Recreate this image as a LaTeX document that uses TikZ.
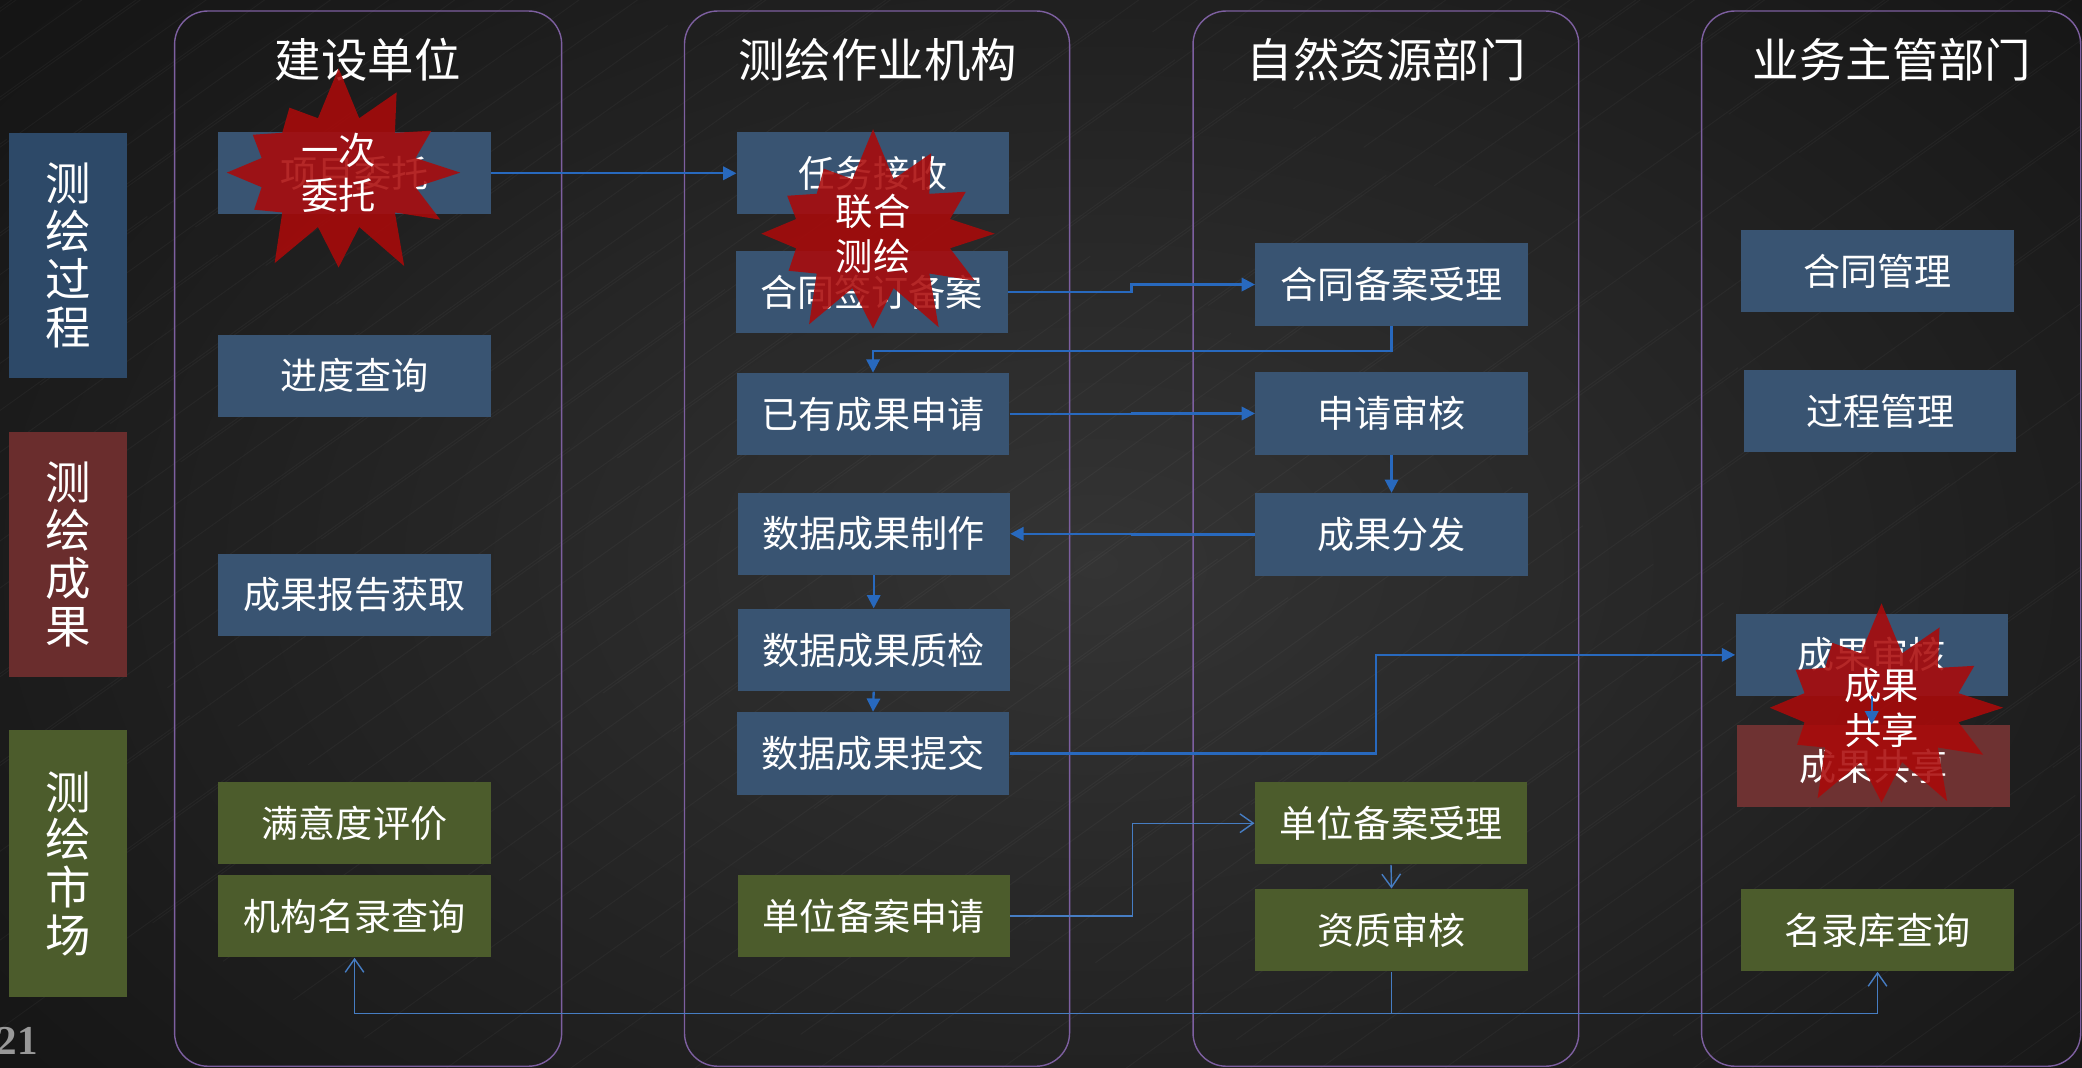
\documentclass[tikz,border=0pt]{standalone}
\usepackage{fontspec}
\setmainfont{Noto Sans CJK SC}
\newfontfamily\numfont{Liberation Serif}
\usetikzlibrary{calc,shapes.symbols,arrows.meta}
\definecolor{bgin}{RGB}{52,52,52}
\definecolor{bgout}{RGB}{20,20,20}
\definecolor{lanecol}{RGB}{125,95,160}
\definecolor{boxblue}{RGB}{57,84,114}
\definecolor{sideblue}{RGB}{45,73,104}
\definecolor{boxgreen}{RGB}{76,92,44}
\definecolor{boxred}{RGB}{110,50,50}
\definecolor{sidered}{RGB}{106,45,45}
\definecolor{burstred}{RGB}{170,10,10}
\definecolor{flowblue}{RGB}{40,105,190}
\definecolor{thinblue}{RGB}{70,125,195}
\begin{document}
\begin{tikzpicture}[x=0.02cm,y=-0.02cm,
  box/.style={minimum width=4.1cm,minimum height=1.24cm,inner sep=0pt,text=white,font=\fontsize{15.9}{19}\selectfont},
  bluebox/.style={box,fill=boxblue},
  greenbox/.style={box,fill=boxgreen},
  redbox/.style={box,fill=boxred},
  side/.style={minimum width=1.78cm,inner sep=0pt,align=center,text=white,font=\fontsize{19.5}{20.5}\selectfont},
  lane/.style={draw=lanecol,line width=0.6pt,rounded corners=0.5cm},
  head/.style={text=white,font=\fontsize{19.9}{24}\selectfont},
  burst/.style={starburst,starburst points=12,starburst point height=0.8cm,random starburst=7,
    minimum width=4cm,minimum height=2.35cm,inner sep=0pt,fill=burstred,fill opacity=0.88,
    text opacity=1,text=white,align=center,font=\fontsize{16}{19.4}\selectfont},
  flow/.style={draw=flowblue,line width=1pt,-{Triangle[length=5.7pt,width=5.7pt]}},
  thinflow/.style={draw=thinblue,line width=0.6pt,-{Straight Barb[length=5.7pt,width=8pt]}}]
\clip (0,0) rectangle (1568,804);
\shade[inner color=bgin,outer color=bgout] (-250,-250) rectangle (1900,1100);
\foreach \k in {0,...,160}
  \draw[white,opacity=0.035,line width=0.4pt] ({mod(\k*53,2300)-500},{mod(\k*29,900)}) -- ++(420,-300);
\draw[lane] (131.5,8.3) rectangle (423,803);
\draw[lane] (515.5,8.3) rectangle (805.5,803);
\draw[lane] (898.5,8.3) rectangle (1189,803);
\draw[lane] (1281.5,8.3) rectangle (1567,803);
\node[head] (hjs) at (277,45) {建设单位};
\node[head] (hch) at (661,45) {测绘作业机构};
\node[head] (hzr) at (1044,45) {自然资源部门};
\node[head] (hyw) at (1425,45) {业务主管部门};
\node[side,fill=sideblue,minimum height=3.7cm] (sgc) at (51.5,192.5) {测\\绘\\过\\程};
\node[side,fill=sidered,minimum height=3.7cm] (scg) at (51.5,417.5) {测\\绘\\成\\果};
\node[side,fill=boxgreen,minimum height=4.02cm] (ssc) at (51.5,650.5) {测\\绘\\市\\场};
\node[font=\numfont\bfseries\fontsize{17.6}{20}\selectfont,text=gray!80,inner sep=0pt] (pg) at (13,784) {21};
\node[bluebox] (xmwt) at (267,130.5) {项目委托};
\node[bluebox] (jdcx) at (267,283) {进度查询};
\node[bluebox] (cgbg) at (267,448) {成果报告获取};
\node[greenbox] (myd) at (267,620) {满意度评价};
\node[greenbox] (jgml) at (267,690) {机构名录查询};
\node[bluebox] (rwjs) at (657.5,130.5) {任务接收};
\node[bluebox] (htqd) at (656.5,220) {合同签订备案};
\node[bluebox] (yycg) at (657.5,312) {已有成果申请};
\node[bluebox] (sjzz) at (658,402) {数据成果制作};
\node[bluebox] (sjzj) at (658,489.5) {数据成果质检};
\node[bluebox] (sjtj) at (657.5,567.4) {数据成果提交};
\node[greenbox] (dwsq) at (658,690) {单位备案申请};
\node[bluebox] (htsl) at (1048,214.3) {合同备案受理};
\node[bluebox] (sqsh) at (1048,311.4) {申请审核};
\node[bluebox] (cgff) at (1048,402.5) {成果分发};
\node[greenbox] (dwsl) at (1047.6,620) {单位备案受理};
\node[greenbox] (zzsh) at (1048,700.5) {资质审核};
\node[bluebox] (htgl) at (1414,204.3) {合同管理};
\node[bluebox] (gcgl) at (1416,309.5) {过程管理};
\node[bluebox] (cgsh) at (1409.6,493.2) {成果审核};
\node[redbox] (cggx) at (1411,577) {成果共享};
\node[greenbox] (mlk) at (1414,700.5) {名录库查询};
\node[burst] (bwt) at (255,130) {一次\\委托};
\node[burst] (bch) at (657.5,176) {联合\\测绘};
\node[burst] (bgx) at (1417,533) {成果\\共享};
\draw[flow] (xmwt.east) -- (rwjs.west);
\draw[flow] (htqd.east) -| ($(htqd.east)!0.5!(htsl.west)$) |- (htsl.west);
\draw[flow] (htsl.south) -- ++(0,18.7) -| (yycg.north);
\draw[flow] (yycg.east) -| ($(yycg.east)!0.5!(sqsh.west)$) |- (sqsh.west);
\draw[flow] (sqsh.south) -- (cgff.north);
\draw[flow] (cgff.west) -| ($(cgff.west)!0.5!(sjzz.east)$) |- (sjzz.east);
\draw[flow] (sjzz.south) -- (sjzj.north);
\draw[flow] (sjzj.south) -- (sjtj.north);
\draw[flow] (sjtj.east) -- ++(276,0) |- (cgsh.west);
\draw[flow] (cgsh.south) -- (cgsh.south |- cggx.north);
\draw[thinflow] (dwsq.east) -| ($(dwsq.east)!0.5!(dwsl.west)$) |- (dwsl.west);
\draw[thinflow] (dwsl.south) -- (zzsh.north);
\coordinate (fen) at ($(zzsh.south)+(0,31.5)$);
\draw[thinflow] (zzsh.south) -- (fen) -| (jgml.south);
\draw[thinflow] (fen) -| (mlk.south);
\end{tikzpicture}
\end{document}
